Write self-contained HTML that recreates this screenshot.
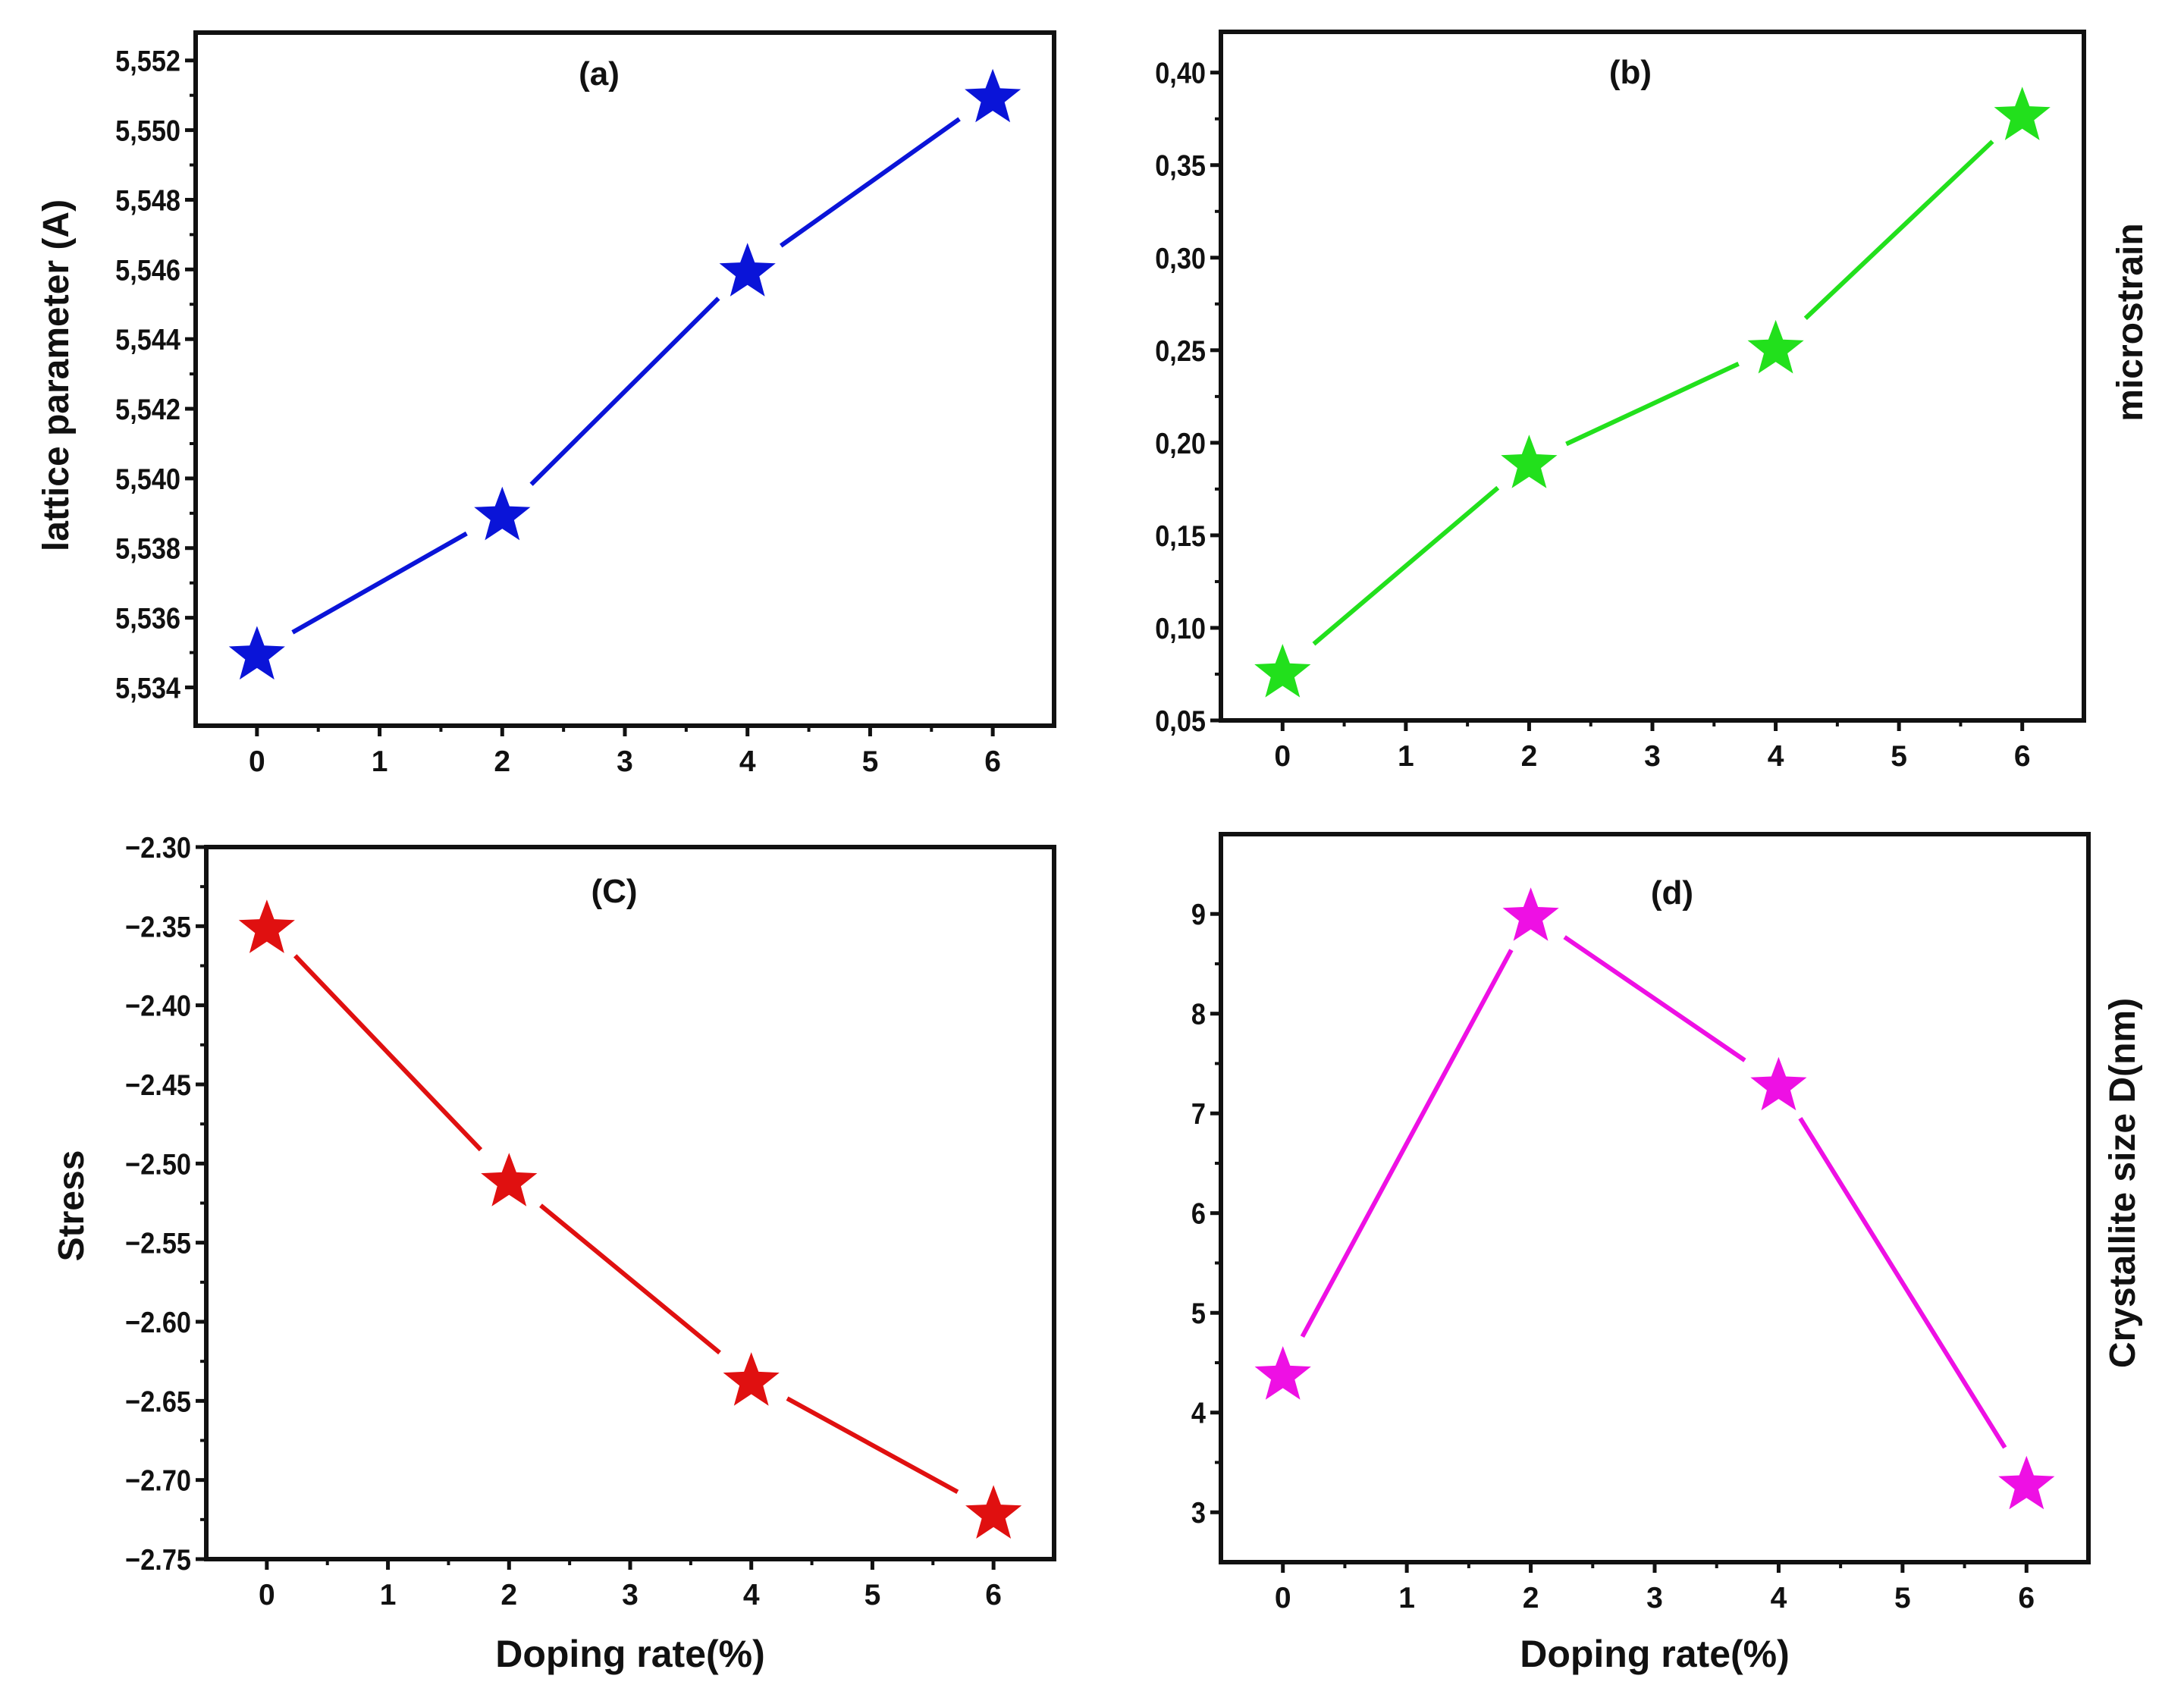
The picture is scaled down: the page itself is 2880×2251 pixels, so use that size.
<!DOCTYPE html>
<html><head><meta charset="utf-8"><style>
html,body{margin:0;padding:0;background:#fff;}
svg{display:block;font-family:"Liberation Sans",sans-serif;font-weight:bold;}
</style></head><body>
<svg id="fig" width="2880" height="2251" viewBox="0 0 2880 2251" xmlns="http://www.w3.org/2000/svg"></svg>
<script>
const xCats = [0, 2, 4, 6];
const xTicks = [0, 1, 2, 3, 4, 5, 6];
const aVals = [5.535, 5.539, 5.546, 5.551];
const aTicks = [5.534, 5.536, 5.538, 5.540, 5.542, 5.544, 5.546, 5.548, 5.550, 5.552];
const bVals = [0.077, 0.19, 0.252, 0.378];
const bTicks = [0.05, 0.10, 0.15, 0.20, 0.25, 0.30, 0.35, 0.40];
const cVals = [-2.35, -2.51, -2.636, -2.72];
const cTicks = [-2.30, -2.35, -2.40, -2.45, -2.50, -2.55, -2.60, -2.65, -2.70, -2.75];
const dVals = [4.4, 9.0, 7.3, 3.3];
const dTicks = [3, 4, 5, 6, 7, 8, 9];

const NS = "http://www.w3.org/2000/svg";
const svg = document.getElementById('fig');
function mk(tag, attrs, parent, text){
  const e = document.createElementNS(NS, tag);
  for (const k in attrs) e.setAttribute(k, attrs[k]);
  if (text !== undefined) e.textContent = text;
  (parent || svg).appendChild(e);
  return e;
}
function starPath(cx, cy, R){
  const r = R * 0.42; let d = '';
  for (let i = 0; i < 10; i++){
    const ang = -Math.PI/2 + i*Math.PI/5;
    const rr = i % 2 ? r : R;
    d += (i ? 'L' : 'M') + (cx + rr*Math.cos(ang)).toFixed(1) + ',' + (cy + rr*Math.sin(ang)).toFixed(1);
  }
  return d + 'Z';
}
const XMIN = -0.5, XMAX = 6.5;
function panel(cfg){
  const g = mk('g', {});
  
  
  const L = cfg.box[0], T = cfg.box[1], R = cfg.box[2], B = cfg.box[3];
  const xs = v => L + (v - XMIN) / (XMAX - XMIN) * (R - L);
  const ys = v => B - (v - cfg.ymin) / (cfg.ymax - cfg.ymin) * (B - T);
  for (let i = 0; i < cfg.yt.length; i++){
    const v = cfg.yt[i], y = ys(v);
    const t = mk('line', {x1: L-14, x2: L, y1: y, y2: y, stroke: '#111', 'stroke-width': 5}, g);
    
    
    const lb = mk('text', {x: L-20, y: y+14, 'text-anchor': 'end', 'font-size': 39, fill: '#111',
      transform: 'translate(' + (L-20) + ',0) scale(0.88,1) translate(' + (-(L-20)) + ',0)'}, g, cfg.fmt(v));
    
    
    if (i < cfg.yt.length - 1){
      const ym = ys((v + cfg.yt[i+1]) / 2);
      mk('line', {x1: L-8, x2: L, y1: ym, y2: ym, stroke: '#111', 'stroke-width': 4}, g);
    }
  }
  for (let i = 0; i < xTicks.length; i++){
    const v = xTicks[i], x = xs(v);
    const t = mk('line', {x1: x, x2: x, y1: B, y2: B+14, stroke: '#111', 'stroke-width': 5}, g);
    
    
    const lb = mk('text', {x: x, y: B+60, 'text-anchor': 'middle', 'font-size': 39, fill: '#111'}, g, String(v));
    
    
    const xm = xs(v + 0.5);
    if (xm < R - 2) mk('line', {x1: xm, x2: xm, y1: B, y2: B+8, stroke: '#111', 'stroke-width': 4}, g);
  }
  const fr = mk('rect', {x: L, y: T, width: R-L, height: B-T, fill: 'none', stroke: '#111', 'stroke-width': 6}, g);
  
  
  for (let i = 0; i < xCats.length - 1; i++){
    const x1 = xs(xCats[i]), y1 = ys(cfg.vals[i]), x2 = xs(xCats[i+1]), y2 = ys(cfg.vals[i+1]);
    const dx = x2-x1, dy = y2-y1, len = Math.hypot(dx, dy), gap = 54;
    const s = mk('line', {x1: x1+dx/len*gap, y1: y1+dy/len*gap, x2: x2-dx/len*gap, y2: y2-dy/len*gap, stroke: cfg.color, 'stroke-width': 6}, g);
    
    
  }
  for (let i = 0; i < xCats.length; i++){
    const p = mk('path', {d: starPath(xs(xCats[i]), ys(cfg.vals[i]) + 4, 39), fill: cfg.color}, g);
    
    
  }
  const pl = mk('text', {x: cfg.lab[0], y: cfg.lab[1], 'text-anchor': 'middle', 'font-size': 44, fill: '#111'}, g, cfg.label);
  
  
  const yt = mk('text', {x: 0, y: 0, 'text-anchor': 'middle', 'font-size': 48, fill: '#111',
    transform: 'translate(' + cfg.ytitle[0] + ',' + cfg.ytitle[1] + ') rotate(-90)'}, g, cfg.ytitleText);
  
  
  if (cfg.xtitle){
    const xt = mk('text', {x: (L+R)/2, y: cfg.xtitle, 'text-anchor': 'middle', 'font-size': 50, fill: '#111'}, g, 'Doping rate(%)');
    
    
  }
}
const f3 = v => v.toFixed(3).replace('.', ',');
const f2 = v => v.toFixed(2).replace('.', ',');
const f2m = v => v.toFixed(2).replace('-', '\u2212');
panel({name:'panel-a-lattice', box:[258,43,1390,957], ymin:5.5329, ymax:5.5528, yt:aTicks, vals:aVals, color:'#0a14d8',
  fmt:f3, label:'(a)', lab:[790,112], ytitle:[90,495], ytitleText:'lattice parameter (A)'});
panel({name:'panel-b-microstrain', box:[1610,42,2748,950], ymin:0.05, ymax:0.422, yt:bTicks, vals:bVals, color:'#22e01c',
  fmt:f2, label:'(b)', lab:[2150,110], ytitle:[2825,425], ytitleText:'microstrain'});
panel({name:'panel-c-stress', box:[272,1117,1390,2056], ymin:-2.75, ymax:-2.30, yt:cTicks, vals:cVals, color:'#e01010',
  fmt:f2m, label:'(C)', lab:[810,1190], ytitle:[110,1590], ytitleText:'Stress', xtitle:2198});
panel({name:'panel-d-crystallite', box:[1610,1100,2754,2060], ymin:2.5, ymax:9.8, yt:dTicks, vals:dVals, color:'#ee10e4',
  fmt:v=>String(v), label:'(d)', lab:[2205,1192], ytitle:[2815,1560], ytitleText:'Crystallite size D(nm)', xtitle:2198});
</script>
</body></html>
